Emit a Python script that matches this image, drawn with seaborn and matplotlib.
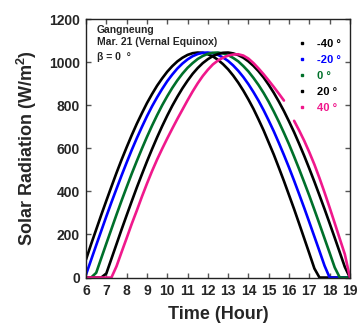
import numpy as np
import pandas as pd
import seaborn as sns
import matplotlib.pyplot as plt
from matplotlib.lines import Line2D

# hours, every 15 minutes
hours = np.arange(6.0, 19.01, 0.25)

angle_labels = ['-40 °', '-20 °', '0 °', '20 °', '40 °']
line_colors = ['#000000', '#0000ff', '#00702a', '#000000', '#f0188c']

rad_m40 = [84, 155, 223, 291, 357, 422, 486, 547, 605, 661, 714, 763, 810, 852, 891, 925,
           956, 982, 1004, 1021, 1034, 1042, 1045, 1044, 1037, 1027, 1011, 991, 967, 938,
           905, 868, 827, 783, 734, 683, 627, 571, 510, 448, 383, 318, 250, 181, 112, 42,
           0, 0, 0, 0, 0, 0, 0]
rad_m20 = [14, 82, 150, 217, 284, 349, 412, 474, 534, 592, 647, 699, 749, 795, 837, 876,
           912, 943, 971, 994, 1013, 1028, 1038, 1044, 1045, 1042, 1034, 1022, 1006, 985,
           960, 931, 898, 861, 821, 777, 729, 679, 625, 569, 511, 450, 387, 323, 257, 190,
           123, 55, 0, 0, 0, 0, 0]
rad_0 = [0, 0, 22, 90, 158, 225, 292, 357, 420, 482, 541, 598, 653, 705, 754, 800,
         842, 881, 916, 947, 974, 996, 1015, 1029, 1039, 1044, 1045, 1041, 1033, 1020, 1004,
         982, 957, 927, 894, 857, 816, 771, 723, 672, 619, 562, 503, 442, 380, 315, 249,
         182, 115, 47, 0, 0, 0]
rad_p20 = [0, 0, 0, 0, 19, 87, 155, 223, 289, 354, 418, 479, 539, 596, 651, 703,
           752, 798, 840, 879, 914, 946, 973, 996, 1014, 1029, 1038, 1044, 1045, 1041, 1033,
           1021, 1004, 983, 958, 929, 895, 858, 817, 773, 725, 675, 621, 565, 506, 445,
           382, 318, 252, 185, 117, 49, 0]
# 40 deg series has a short break in the record around 16:00
rad_p40 = [0, 0, 0, 0, 0, 0, 52, 118, 183, 249, 311, 375, 436, 494, 548, 598,
           646, 692, 737, 780, 823, 864, 902, 936, 965, 990, 1008, 1021, 1031, 1036, 1037,
           1031, 1017, 996, 971, 944, 915, 885, 854, 822, np.nan, 728, 683, 635, 582, 525,
           462, 395, 325, 253, 180, 108, 0]

series = [rad_m40, rad_m20, rad_0, rad_p20, rad_p40]

frames = []
for lab, vals in zip(angle_labels, series):
    v = np.array(vals, dtype=float)
    frames.append(pd.DataFrame({'hour': hours, 'rad': v, 'angle': lab,
                                'seg': np.isnan(v).cumsum()}))
df = pd.concat(frames, ignore_index=True)

sns.set_style('ticks')
plt.rcParams['font.family'] = ['Liberation Sans', 'DejaVu Sans']
plt.rcParams['font.weight'] = 'bold'
plt.rcParams['mathtext.fontset'] = 'custom'
plt.rcParams['mathtext.rm'] = 'Liberation Sans:bold'
plt.rcParams['mathtext.bf'] = 'Liberation Sans:bold'

fig = plt.figure(figsize=(3.6, 3.25), dpi=100)
ax = fig.add_axes([0.239, 0.146, 0.733, 0.795])

sns.lineplot(data=df, x='hour', y='rad', hue='angle', units='seg', estimator=None,
             palette=dict(zip(angle_labels, line_colors)), hue_order=angle_labels,
             linewidth=1.9, legend=False, ax=ax)

ax.set_xlim(6, 19)
ax.set_ylim(0, 1200)
ax.set_xticks(range(6, 20))
ax.set_yticks(range(0, 1201, 200))
ax.tick_params(direction='in', top=True, right=True, length=3.5, width=1,
               labelsize=10, pad=4.5, color='#555555')
for lbl in ax.get_xticklabels() + ax.get_yticklabels():
    lbl.set_fontweight('bold')
for sp in ax.spines.values():
    sp.set_linewidth(1)
    sp.set_color('#222222')

ax.set_xlabel('Time (Hour)', fontsize=13, fontweight='bold', labelpad=6)
ax.set_ylabel(r'Solar Radiation (W/m$^{2}$)', fontsize=13, fontweight='bold', labelpad=7)

ax.text(0.04, 0.960, 'Gangneung', transform=ax.transAxes, fontsize=7.5,
        fontweight='bold', va='center', ha='left')
ax.text(0.04, 0.910, 'Mar. 21 (Vernal Equinox)', transform=ax.transAxes, fontsize=7.5,
        fontweight='bold', va='center', ha='left')
ax.text(0.04, 0.855, 'β = 0  °', transform=ax.transAxes, fontsize=7.5,
        fontweight='bold', va='center', ha='left')

handles = [Line2D([], [], marker='s', linestyle='none', markersize=2, color=c)
           for c in line_colors]
ax.legend(handles, angle_labels, loc='upper left', bbox_to_anchor=(0.805, 0.922),
          frameon=False, labelcolor=line_colors, borderpad=0,
          borderaxespad=0, handlelength=0.6, handletextpad=1.1, labelspacing=0.53,
          prop={'weight': 'bold', 'size': 8})

fig.savefig('out.png', dpi=100)
